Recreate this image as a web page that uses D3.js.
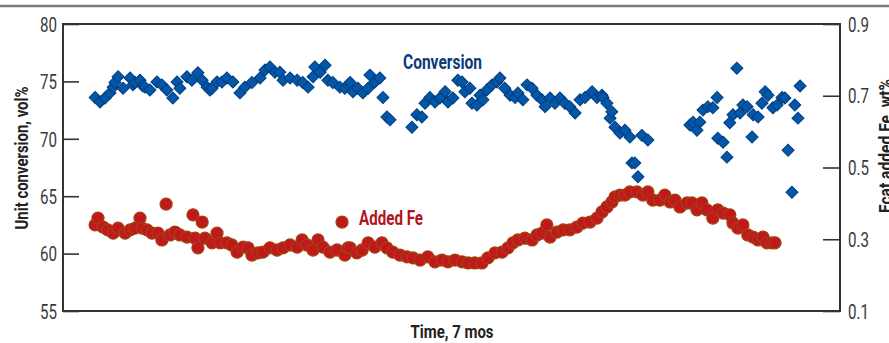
<!DOCTYPE html>
<html>
<head>
<meta charset="utf-8">
<script src="https://cdn.jsdelivr.net/npm/d3@7"></script>
<style>
  body { margin: 0; background: #fff; }
  svg { display: block; font-family: Roboto, "DejaVu Sans Condensed", sans-serif; }
</style>
</head>
<body>
<svg id="chart" width="889" height="343"></svg>
<script>
// time in days (7 months), unit conversion vol%
const convDays = [9.1, 10.5, 11.9, 13.3, 14.2, 14.7, 15.6, 17.0, 19.0, 19.8, 20.4, 21.8, 22.6, 23.2, 24.6, 26.6, 28.0, 29.4, 31.1,
  32.3, 33.1, 35.1, 36.5, 38.2, 39.4, 40.8, 41.6, 42.2, 43.6, 45.0, 46.4, 48.1, 50.1, 51.5, 53.5, 55.8, 57.2, 58.6, 60.0,
  61.4, 62.3, 64.3, 66.3, 67.9, 69.4, 70.8, 71.3, 72.8, 74.2, 75.0, 76.4, 78.4, 79.8, 80.7, 81.3, 82.1, 83.5, 84.9, 86.4,
  86.9, 88.3, 89.7, 90.6, 91.7, 92.6,
  98.8, 100.2, 101.6, 102.5, 103.9, 105.3, 106.7, 108.2, 109.0, 110.4, 111.8, 113.0, 113.8, 115.2, 115.8, 117.2, 118.1,
  118.9, 120.0, 121.5, 122.9, 123.7, 125.1, 126.6, 128.0, 128.8, 130.2, 131.4, 132.8, 134.2, 135.6, 136.5, 137.9, 139.3,
  140.7, 142.1, 143.5, 145.0, 146.4, 147.8, 149.8, 151.2, 152.6, 152.9, 154.0, 154.9, 155.4, 156.3, 157.7, 159.1, 160.5,
  161.1, 161.9, 162.8, 163.9, 165.6,
  177.5, 178.4, 179.5, 180.3, 181.2, 182.6, 184.0, 185.2, 185.4, 186.9, 188.0, 188.8, 189.7, 190.8, 191.7, 192.5, 193.7,
  195.1, 195.4, 196.8, 197.9, 198.8, 199.6, 201.0, 202.2, 203.6, 204.4, 205.3, 206.4, 207.2, 208.1, 208.7];
const convValues = [73.6, 73.2, 73.55, 74.0, 74.5, 74.9, 75.4, 74.4, 75.3, 74.7, 74.9, 75.1, 74.6, 74.5, 74.25, 74.95, 74.7, 74.25, 73.55,
  74.95, 74.4, 75.4, 75.1, 75.75, 75.1, 74.5, 74.25, 74.4, 74.95, 74.95, 75.3, 74.95, 74.0, 74.5, 74.9, 75.3, 76.0, 76.25, 75.8,
  75.8, 75.1, 75.3, 75.1, 74.9, 74.5, 75.4, 76.25, 75.8, 76.4, 75.1, 74.9, 74.5, 74.4, 74.7, 74.9, 74.1, 74.4, 74.0, 74.4,
  75.55, 74.95, 75.3, 73.6, 71.9, 71.65,
  71.0, 72.1, 71.9, 73.1, 73.6, 73.2, 73.55, 74.1, 73.2, 73.55, 75.1, 74.95, 74.1, 74.4, 73.1, 72.95, 73.8,
  73.4, 74.25, 74.7, 74.95, 75.3, 74.4, 73.8, 73.6, 74.0, 73.4, 74.7, 74.4, 73.8, 73.4, 72.8, 73.55, 73.1,
  73.55, 73.1, 72.8, 72.25, 73.4, 73.6, 74.1, 73.6, 73.8, 73.6, 73.1, 71.8, 72.35, 71.0, 70.5, 70.75, 70.15,
  67.9, 67.9, 66.7, 70.3, 69.9,
  71.2, 71.45, 70.75, 71.45, 72.5, 72.8, 72.7, 73.6, 70.05, 69.7, 68.4, 71.4, 72.1, 76.15, 72.25, 72.95, 72.8,
  70.15, 72.1, 71.9, 73.1, 74.1, 73.8, 72.7, 72.95, 73.6, 73.55, 69.0, 65.35, 72.95, 71.8, 74.6];

// time in days, Fcat added Fe wt%
const feDays = [9.1, 9.9, 11.3, 12.7, 14.2, 15.6, 17.6, 19.0, 20.4, 21.8, 22.4, 23.8, 25.2, 26.9, 28.0, 29.2, 30.3, 31.7, 33.1,
  35.1, 36.8, 37.4, 38.2, 39.4, 40.2, 42.2, 43.6, 44.5, 46.4, 47.8, 49.3, 51.0, 52.4, 53.5, 55.2, 56.6, 58.6, 60.6, 62.3,
  64.3, 66.3, 67.7, 69.1, 70.8, 72.2, 73.6, 75.6, 77.6, 79.0, 79.8, 80.7, 81.3, 83.2, 84.7, 86.4, 88.3, 90.3, 91.7, 93.4,
  95.4, 97.4, 99.1, 101.1, 103.3, 105.3, 107.3, 109.0, 111.0, 113.0, 114.7, 116.6, 118.6, 120.3, 122.3, 124.3, 126.0,
  127.4, 128.8, 130.8, 132.8, 134.2, 135.6, 137.0, 137.9, 139.9, 141.6, 143.5, 145.5, 147.2, 149.2, 151.2, 152.6, 154.0,
  155.4, 156.3, 157.7, 159.1, 160.5, 162.5, 164.2, 165.6, 167.0, 169.0, 170.4, 171.9, 173.3, 174.7, 176.7, 178.1, 179.5,
  180.9, 182.3, 184.0, 185.4, 186.9, 188.8, 189.7, 191.1, 192.5, 193.9, 195.4, 196.8, 198.2, 199.3, 200.7, 201.6];
const feValues = [0.340, 0.359, 0.334, 0.326, 0.317, 0.331, 0.317, 0.326, 0.331, 0.359, 0.331, 0.326, 0.317, 0.317, 0.298, 0.398, 0.312, 0.320, 0.312,
  0.306, 0.368, 0.303, 0.276, 0.348, 0.303, 0.290, 0.317, 0.290, 0.290, 0.284, 0.264, 0.278, 0.276, 0.256, 0.262, 0.264, 0.276, 0.270, 0.276,
  0.284, 0.278, 0.298, 0.284, 0.270, 0.298, 0.278, 0.264, 0.270, 0.348, 0.256, 0.276, 0.276, 0.262, 0.270, 0.290, 0.278, 0.290, 0.276, 0.264,
  0.256, 0.251, 0.248, 0.242, 0.251, 0.237, 0.242, 0.237, 0.242, 0.237, 0.234, 0.234, 0.234, 0.248, 0.262, 0.264, 0.276,
  0.290, 0.298, 0.303, 0.298, 0.312, 0.317, 0.340, 0.306, 0.320, 0.326, 0.326, 0.334, 0.345, 0.348, 0.359, 0.376, 0.390,
  0.404, 0.418, 0.423, 0.423, 0.432, 0.432, 0.423, 0.432, 0.409, 0.409, 0.423, 0.404, 0.409, 0.390, 0.401, 0.401, 0.382,
  0.401, 0.382, 0.359, 0.382, 0.373, 0.368, 0.345, 0.331, 0.340, 0.312, 0.306, 0.298, 0.306, 0.290, 0.290, 0.290];

const leftTicks = [55, 60, 65, 70, 75, 80];
const rightTicks = [0.1, 0.3, 0.5, 0.7, 0.9];
const seriesNames = ["Conversion", "Added Fe"];
const leftTitle = "Unit conversion, vol%";
const rightTitle = "Fcat added Fe, wt%";
const xTitle = "Time, 7 mos";

const svg = d3.select("#chart");
const plotL = 63, plotR = 840, plotT = 24, plotB = 311;

const x = d3.scaleLinear().domain([0, 220]).range([plotL, plotR]);
const yL = d3.scaleLinear().domain([55, 80]).range([plotB, plotT]);
const yR = d3.scaleLinear().domain([0.1, 0.9]).range([plotB, plotT]);

// the original uses a very condensed face, so squeeze text to its width
function squeeze(sel, w) {
  sel.attr("textLength", w).attr("lengthAdjust", "spacingAndGlyphs");
}

// grey rule across the top
svg.append("line").attr("x1", 0).attr("x2", 889).attr("y1", 6).attr("y2", 6)
  .attr("stroke", "#7a7a7a").attr("stroke-width", 2.5);

// axes
const gL = svg.append("g").attr("transform", `translate(${plotL},0)`)
  .call(d3.axisLeft(yL).tickValues(leftTicks).tickSizeInner(-16).tickSizeOuter(0).tickPadding(6));
const gR = svg.append("g").attr("transform", `translate(${plotR},0)`)
  .call(d3.axisRight(yR).tickValues(rightTicks).tickSizeInner(-17).tickSizeOuter(0).tickPadding(8)
    .tickFormat(d3.format(".1f")));
[gL, gR].forEach(g => {
  g.select(".domain").remove();
  g.selectAll(".tick line").attr("stroke", "#333").attr("stroke-width", 1.6);
  g.selectAll(".tick text").attr("fill", "#3a3a3a").style("font-size", "20px")
    .style("font-family", "Roboto, sans-serif").attr("dy", "0.36em");
});
squeeze(gL.selectAll(".tick text"), 17);
squeeze(gR.selectAll(".tick text"), 21);

// frame
svg.append("rect").attr("x", plotL).attr("y", plotT).attr("width", plotR - plotL).attr("height", plotB - plotT)
  .attr("fill", "none").attr("stroke", "#333").attr("stroke-width", 2);

// conversion diamonds
const diamond = d3.symbol().type(d3.symbolSquare).size(72);
svg.append("g").selectAll("path")
  .data(convDays.map((d, i) => [d, convValues[i]]))
  .join("path")
  .attr("d", diamond)
  .attr("transform", d => `translate(${x(d[0])},${yL(d[1])}) rotate(45)`)
  .attr("fill", "#0457a8").attr("stroke", "#023e80").attr("stroke-width", 1);

// added Fe circles
svg.append("g").selectAll("circle")
  .data(feDays.map((d, i) => [d, feValues[i]]))
  .join("circle")
  .attr("cx", d => x(d[0])).attr("cy", d => yR(d[1])).attr("r", 6)
  .attr("fill", "#c0181c").attr("stroke", "#a3410f").attr("stroke-width", 1.3);

// series labels
svg.append("text").attr("x", 403).attr("y", 69).text(seriesNames[0])
  .attr("fill", "#0b3c78").style("font-size", "21px").style("font-weight", "bold")
  .call(squeeze, 79);
svg.append("text").attr("x", 359).attr("y", 225).text(seriesNames[1])
  .attr("fill", "#b3121c").style("font-size", "21px").style("font-weight", "bold")
  .call(squeeze, 64);

// axis titles
svg.append("text").attr("transform", "translate(28,158) rotate(-90)").attr("text-anchor", "middle")
  .text(leftTitle).attr("fill", "#222").style("font-size", "19px").style("font-weight", "bold")
  .call(squeeze, 143);
svg.append("text").attr("transform", "translate(892,146) rotate(-90)").attr("text-anchor", "middle")
  .text(rightTitle).attr("fill", "#222").style("font-size", "19px").style("font-weight", "bold")
  .call(squeeze, 134);
svg.append("text").attr("x", 452).attr("y", 338).attr("text-anchor", "middle")
  .text(xTitle).attr("fill", "#222").style("font-size", "18px").style("font-weight", "bold")
  .call(squeeze, 83);
</script>
</body>
</html>
